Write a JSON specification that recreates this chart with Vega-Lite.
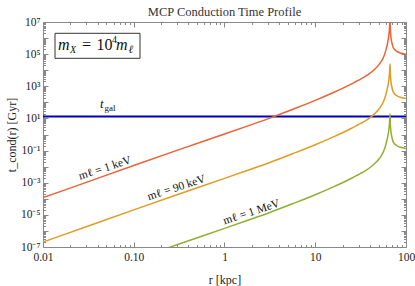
{
  "$schema": "https://vega.github.io/schema/vega-lite/v6.json",
  "width": 363,
  "height": 225,
  "autosize": {"type": "none"},
  "padding": {"left": 43, "top": 22, "right": 9, "bottom": 39},
  "title": {"text": "MCP Conduction Time Profile", "font": "Liberation Serif", "fontSize": 12.5, "fontWeight": "normal", "color": "#333333", "offset": -2},
  "config": {
    "view": {"stroke": "#888888", "strokeWidth": 1},
    "axis": {"domain": false, "grid": false, "labelFont": "Liberation Serif", "labelFontSize": 11.5, "labelColor": "#222222", "titleFont": "Liberation Serif", "titleFontSize": 12, "titleFontWeight": "normal", "titleColor": "#222222", "tickColor": "#888888", "tickWidth": 1, "labelOverlap": false, "labelFlush": false}
  },
  "datasets": {
    "curves": [
      {"m": "1 keV", "r": 0.01, "t": 1.175e-4},
      {"m": "1 keV", "r": 0.03162, "t": 1.175e-3},
      {"m": "1 keV", "r": 0.1, "t": 1.175e-2},
      {"m": "1 keV", "r": 0.3162, "t": 0.1148},
      {"m": "1 keV", "r": 1, "t": 1.072},
      {"m": "1 keV", "r": 1.778, "t": 3.311},
      {"m": "1 keV", "r": 3.162, "t": 10.47},
      {"m": "1 keV", "r": 5.623, "t": 36.31},
      {"m": "1 keV", "r": 10, "t": 131.8},
      {"m": "1 keV", "r": 15.85, "t": 407.4},
      {"m": "1 keV", "r": 19.95, "t": 741.3},
      {"m": "1 keV", "r": 25.12, "t": 1413},
      {"m": "1 keV", "r": 28.18, "t": 1995},
      {"m": "1 keV", "r": 31.62, "t": 2818},
      {"m": "1 keV", "r": 35.48, "t": 4074},
      {"m": "1 keV", "r": 39.81, "t": 6310},
      {"m": "1 keV", "r": 44.67, "t": 10715},
      {"m": "1 keV", "r": 50.12, "t": 21380},
      {"m": "1 keV", "r": 53.09, "t": 33884},
      {"m": "1 keV", "r": 56.23, "t": 60256},
      {"m": "1 keV", "r": 60.26, "t": 190546},
      {"m": "1 keV", "r": 63.10, "t": 602560},
      {"m": "1 keV", "r": 64.57, "t": 1318257},
      {"m": "1 keV", "r": 65.77, "t": 3801894},
      {"m": "1 keV", "r": 66.68, "t": 14130000},
      {"m": "1 keV", "r": 67.30, "t": 3162000},
      {"m": "1 keV", "r": 68.39, "t": 1000000},
      {"m": "1 keV", "r": 69.98, "t": 501187},
      {"m": "1 keV", "r": 72.44, "t": 251189},
      {"m": "1 keV", "r": 79.43, "t": 147911},
      {"m": "1 keV", "r": 89.13, "t": 114815},
      {"m": "1 keV", "r": 100, "t": 100000},

      {"m": "90 keV", "r": 0.01, "t": 2.042e-7},
      {"m": "90 keV", "r": 0.03162, "t": 2.042e-6},
      {"m": "90 keV", "r": 0.1, "t": 2.042e-5},
      {"m": "90 keV", "r": 0.3162, "t": 1.995e-4},
      {"m": "90 keV", "r": 1, "t": 1.862e-3},
      {"m": "90 keV", "r": 1.778, "t": 5.754e-3},
      {"m": "90 keV", "r": 3.162, "t": 1.820e-2},
      {"m": "90 keV", "r": 5.623, "t": 6.310e-2},
      {"m": "90 keV", "r": 10, "t": 0.2291},
      {"m": "90 keV", "r": 15.85, "t": 0.7079},
      {"m": "90 keV", "r": 19.95, "t": 1.288},
      {"m": "90 keV", "r": 25.12, "t": 2.455},
      {"m": "90 keV", "r": 28.18, "t": 3.467},
      {"m": "90 keV", "r": 31.62, "t": 4.898},
      {"m": "90 keV", "r": 35.48, "t": 7.079},
      {"m": "90 keV", "r": 39.81, "t": 10.96},
      {"m": "90 keV", "r": 44.67, "t": 18.62},
      {"m": "90 keV", "r": 50.12, "t": 37.15},
      {"m": "90 keV", "r": 53.09, "t": 58.88},
      {"m": "90 keV", "r": 56.23, "t": 104.7},
      {"m": "90 keV", "r": 60.26, "t": 331.1},
      {"m": "90 keV", "r": 63.10, "t": 1047},
      {"m": "90 keV", "r": 64.57, "t": 2291},
      {"m": "90 keV", "r": 65.77, "t": 6607},
      {"m": "90 keV", "r": 66.68, "t": 24547},
      {"m": "90 keV", "r": 67.30, "t": 5495},
      {"m": "90 keV", "r": 68.39, "t": 1738},
      {"m": "90 keV", "r": 69.98, "t": 871},
      {"m": "90 keV", "r": 72.44, "t": 436.5},
      {"m": "90 keV", "r": 79.43, "t": 257.0},
      {"m": "90 keV", "r": 89.13, "t": 199.5},
      {"m": "90 keV", "r": 100, "t": 173.8},

      {"m": "1 MeV", "r": 0.1, "t": 1.585e-8},
      {"m": "1 MeV", "r": 0.3162, "t": 1.549e-7},
      {"m": "1 MeV", "r": 1, "t": 1.445e-6},
      {"m": "1 MeV", "r": 1.778, "t": 4.467e-6},
      {"m": "1 MeV", "r": 3.162, "t": 1.413e-5},
      {"m": "1 MeV", "r": 5.623, "t": 4.898e-5},
      {"m": "1 MeV", "r": 10, "t": 1.778e-4},
      {"m": "1 MeV", "r": 15.85, "t": 5.495e-4},
      {"m": "1 MeV", "r": 19.95, "t": 1.0e-3},
      {"m": "1 MeV", "r": 25.12, "t": 1.905e-3},
      {"m": "1 MeV", "r": 28.18, "t": 2.692e-3},
      {"m": "1 MeV", "r": 31.62, "t": 3.802e-3},
      {"m": "1 MeV", "r": 35.48, "t": 5.495e-3},
      {"m": "1 MeV", "r": 39.81, "t": 8.511e-3},
      {"m": "1 MeV", "r": 44.67, "t": 1.445e-2},
      {"m": "1 MeV", "r": 50.12, "t": 2.884e-2},
      {"m": "1 MeV", "r": 53.09, "t": 4.571e-2},
      {"m": "1 MeV", "r": 56.23, "t": 8.128e-2},
      {"m": "1 MeV", "r": 60.26, "t": 0.2570},
      {"m": "1 MeV", "r": 63.10, "t": 0.8128},
      {"m": "1 MeV", "r": 64.57, "t": 1.778},
      {"m": "1 MeV", "r": 65.77, "t": 5.129},
      {"m": "1 MeV", "r": 66.68, "t": 19.05},
      {"m": "1 MeV", "r": 67.30, "t": 4.266},
      {"m": "1 MeV", "r": 68.39, "t": 1.349},
      {"m": "1 MeV", "r": 69.98, "t": 0.6761},
      {"m": "1 MeV", "r": 72.44, "t": 0.3388},
      {"m": "1 MeV", "r": 79.43, "t": 0.1995},
      {"m": "1 MeV", "r": 89.13, "t": 0.1549},
      {"m": "1 MeV", "r": 100, "t": 0.1349}
    ],
    "tgal": [{"r": 0.01, "t": 13}, {"r": 100, "t": 13}],
    "box": [{"r1": 0.01356, "r2": 0.1172, "t1": 55100, "t2": 1980000}],
    "boxlabel": [{"r": 0.01463, "t": 181000}],
    "gallabel": [{"r": 0.0425, "t": 44.5}],
    "mlabels": [
      {"label": "mℓ = 1 keV", "r": 0.0482, "t": 0.00766},
      {"label": "mℓ = 90 keV", "r": 0.296, "t": 0.000468},
      {"label": "mℓ = 1 MeV", "r": 1.985, "t": 0.0000141}
    ]
  },
  "resolve": {"axis": {"x": "independent", "y": "independent"}},
  "layer": [
    {
      "data": {"name": "tgal"},
      "mark": {"type": "line", "color": "#0000b8", "strokeWidth": 2, "clip": true},
      "encoding": {
        "x": {"field": "r", "type": "quantitative", "scale": {"type": "log", "domain": [0.01, 100], "nice": false},
          "axis": {"orient": "top", "labels": false, "title": null,
            "values": [0.01,0.02,0.03,0.04,0.05,0.06,0.07,0.08,0.09,0.1,0.2,0.3,0.4,0.5,0.6,0.7,0.8,0.9,1,2,3,4,5,6,7,8,9,10,20,30,40,50,60,70,80,90,100],
            "tickSize": {"condition": {"test": "abs(log(datum.value)/LN10 - round(log(datum.value)/LN10)) < 0.001", "value": -5}, "value": -2.5}}},
        "y": {"field": "t", "type": "quantitative", "scale": {"type": "log", "domain": [1e-7, 1e7], "nice": false},
          "axis": {"orient": "right", "labels": false, "title": null,
            "values": [1e-7,2e-7,3e-7,4e-7,5e-7,6e-7,7e-7,8e-7,9e-7,1e-6,2e-6,3e-6,4e-6,5e-6,6e-6,7e-6,8e-6,9e-6,1e-5,2e-5,3e-5,4e-5,5e-5,6e-5,7e-5,8e-5,9e-5,1e-4,2e-4,3e-4,4e-4,5e-4,6e-4,7e-4,8e-4,9e-4,0.001,0.002,0.003,0.004,0.005,0.006,0.007,0.008,0.009,0.01,0.02,0.03,0.04,0.05,0.06,0.07,0.08,0.09,0.1,0.2,0.3,0.4,0.5,0.6,0.7,0.8,0.9,1,2,3,4,5,6,7,8,9,10,20,30,40,50,60,70,80,90,100,200,300,400,500,600,700,800,900,1000,2000,3000,4000,5000,6000,7000,8000,9000,1e4,2e4,3e4,4e4,5e4,6e4,7e4,8e4,9e4,1e5,2e5,3e5,4e5,5e5,6e5,7e5,8e5,9e5,1e6,2e6,3e6,4e6,5e6,6e6,7e6,8e6,9e6,1e7],
            "tickSize": {"condition": {"test": "abs(log(datum.value)/LN10 - round(log(datum.value)/LN10)) < 0.001", "value": -5}, "value": -2.5}}}
      }
    },
    {
      "data": {"name": "curves"},
      "mark": {"type": "line", "strokeWidth": 1.5, "clip": true, "interpolate": "monotone"},
      "encoding": {
        "x": {"field": "r", "type": "quantitative",
          "axis": {"orient": "bottom", "title": "r [kpc]", "titlePadding": 9, "labelPadding": 9,
            "values": [0.01,0.02,0.03,0.04,0.05,0.06,0.07,0.08,0.09,0.1,0.2,0.3,0.4,0.5,0.6,0.7,0.8,0.9,1,2,3,4,5,6,7,8,9,10,20,30,40,50,60,70,80,90,100],
            "labelExpr": "datum.value == 0.01 ? '0.01' : datum.value == 0.1 ? '0.10' : datum.value == 1 ? '1' : datum.value == 10 ? '10' : datum.value == 100 ? '100' : ''",
            "tickSize": {"condition": {"test": "abs(log(datum.value)/LN10 - round(log(datum.value)/LN10)) < 0.001", "value": -5}, "value": -2.5}}},
        "y": {"field": "t", "type": "quantitative",
          "axis": {"orient": "left", "title": "t_cond(r) [Gyr]", "titlePadding": 2, "labelPadding": 8,
            "values": [1e-7,2e-7,3e-7,4e-7,5e-7,6e-7,7e-7,8e-7,9e-7,1e-6,2e-6,3e-6,4e-6,5e-6,6e-6,7e-6,8e-6,9e-6,1e-5,2e-5,3e-5,4e-5,5e-5,6e-5,7e-5,8e-5,9e-5,1e-4,2e-4,3e-4,4e-4,5e-4,6e-4,7e-4,8e-4,9e-4,0.001,0.002,0.003,0.004,0.005,0.006,0.007,0.008,0.009,0.01,0.02,0.03,0.04,0.05,0.06,0.07,0.08,0.09,0.1,0.2,0.3,0.4,0.5,0.6,0.7,0.8,0.9,1,2,3,4,5,6,7,8,9,10,20,30,40,50,60,70,80,90,100,200,300,400,500,600,700,800,900,1000,2000,3000,4000,5000,6000,7000,8000,9000,1e4,2e4,3e4,4e4,5e4,6e4,7e4,8e4,9e4,1e5,2e5,3e5,4e5,5e5,6e5,7e5,8e5,9e5,1e6,2e6,3e6,4e6,5e6,6e6,7e6,8e6,9e6,1e7],
            "labelExpr": "datum.value == 1e7 ? '10⁷' : datum.value == 1e5 ? '10⁵' : datum.value == 1000 ? '10³' : datum.value == 10 ? '10¹' : datum.value == 0.1 ? '10⁻¹' : datum.value == 0.001 ? '10⁻³' : datum.value == 0.00001 ? '10⁻⁵' : datum.value == 1e-7 ? '10⁻⁷' : ''",
            "tickSize": {"condition": {"test": "abs(log(datum.value)/LN10 - round(log(datum.value)/LN10)) < 0.001", "value": -5}, "value": -2.5}}},
        "color": {"field": "m", "type": "nominal", "scale": {"domain": ["1 keV", "90 keV", "1 MeV"], "range": ["#EB6235", "#E19C24", "#8FB032"]}, "legend": null}
      }
    },
    {
      "data": {"name": "box"},
      "mark": {"type": "rect", "fill": "#ffffff", "stroke": "#333333", "strokeWidth": 1},
      "encoding": {
        "x": {"field": "r1", "type": "quantitative", "axis": null},
        "x2": {"field": "r2"},
        "y": {"field": "t1", "type": "quantitative", "axis": null},
        "y2": {"field": "t2"}
      }
    },
    {"data": {"name": "boxlabel"}, "mark": {"type": "text", "text": "m", "font": "Liberation Serif", "fontStyle": "italic", "fontSize": 16, "align": "left", "baseline": "alphabetic", "dx": 0, "color": "#111111"},
      "encoding": {"x": {"field": "r", "type": "quantitative", "axis": null}, "y": {"field": "t", "type": "quantitative", "axis": null}}},
    {"data": {"name": "boxlabel"}, "mark": {"type": "text", "text": "X", "font": "Liberation Serif", "fontStyle": "italic", "fontSize": 10, "align": "left", "baseline": "alphabetic", "dx": 12, "dy": 3, "color": "#111111"},
      "encoding": {"x": {"field": "r", "type": "quantitative", "axis": null}, "y": {"field": "t", "type": "quantitative", "axis": null}}},
    {"data": {"name": "boxlabel"}, "mark": {"type": "text", "text": "=", "font": "Liberation Serif", "fontSize": 16, "align": "left", "baseline": "alphabetic", "dx": 24, "color": "#111111"},
      "encoding": {"x": {"field": "r", "type": "quantitative", "axis": null}, "y": {"field": "t", "type": "quantitative", "axis": null}}},
    {"data": {"name": "boxlabel"}, "mark": {"type": "text", "text": "10", "font": "Liberation Serif", "fontSize": 16, "align": "left", "baseline": "alphabetic", "dx": 38.5, "color": "#111111"},
      "encoding": {"x": {"field": "r", "type": "quantitative", "axis": null}, "y": {"field": "t", "type": "quantitative", "axis": null}}},
    {"data": {"name": "boxlabel"}, "mark": {"type": "text", "text": "4", "font": "Liberation Serif", "fontSize": 10, "align": "left", "baseline": "alphabetic", "dx": 54, "dy": -7, "color": "#111111"},
      "encoding": {"x": {"field": "r", "type": "quantitative", "axis": null}, "y": {"field": "t", "type": "quantitative", "axis": null}}},
    {"data": {"name": "boxlabel"}, "mark": {"type": "text", "text": "m", "font": "Liberation Serif", "fontStyle": "italic", "fontSize": 16, "align": "left", "baseline": "alphabetic", "dx": 58, "color": "#111111"},
      "encoding": {"x": {"field": "r", "type": "quantitative", "axis": null}, "y": {"field": "t", "type": "quantitative", "axis": null}}},
    {"data": {"name": "boxlabel"}, "mark": {"type": "text", "text": "ℓ", "font": "Liberation Serif", "fontStyle": "italic", "fontSize": 11, "align": "left", "baseline": "alphabetic", "dx": 70.5, "dy": 3, "color": "#111111"},
      "encoding": {"x": {"field": "r", "type": "quantitative", "axis": null}, "y": {"field": "t", "type": "quantitative", "axis": null}}},
    {"data": {"name": "gallabel"}, "mark": {"type": "text", "text": "t", "font": "Liberation Serif", "fontStyle": "italic", "fontSize": 13, "align": "left", "baseline": "alphabetic", "color": "#111111"},
      "encoding": {"x": {"field": "r", "type": "quantitative", "axis": null}, "y": {"field": "t", "type": "quantitative", "axis": null}}},
    {"data": {"name": "gallabel"}, "mark": {"type": "text", "text": "gal", "font": "Liberation Serif", "fontSize": 9, "align": "left", "baseline": "alphabetic", "dx": 4.5, "dy": 3, "color": "#111111"},
      "encoding": {"x": {"field": "r", "type": "quantitative", "axis": null}, "y": {"field": "t", "type": "quantitative", "axis": null}}},
    {"data": {"name": "mlabels"}, "mark": {"type": "text", "font": "Liberation Serif", "fontSize": 11.5, "align": "center", "baseline": "middle", "angle": -18, "color": "#111111"},
      "encoding": {"x": {"field": "r", "type": "quantitative", "axis": null}, "y": {"field": "t", "type": "quantitative", "axis": null}, "text": {"field": "label"}}}
  ]
}
